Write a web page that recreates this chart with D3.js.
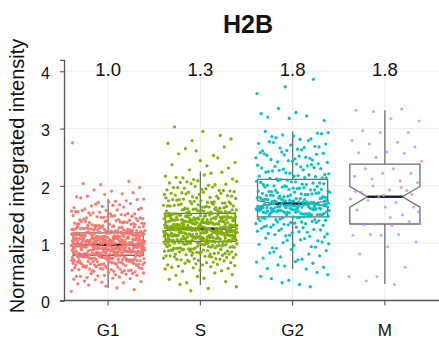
<!DOCTYPE html>
<html><head><meta charset="utf-8">
<script src="https://cdn.jsdelivr.net/npm/d3@7"></script>
<style>
body{margin:0;background:#fff;}
svg{display:block;font-family:"Liberation Sans",Arial,sans-serif;}
</style></head>
<body><svg id="c" width="439" height="341"></svg>
<script>
// ---------- data ----------
const categories = ["G1", "S", "G2", "M"];
const colors = ["#F8766D", "#7CAE00", "#00BFC4", "#C77CFF"];
const meanLabels = ["1.0", "1.3", "1.8", "1.8"];
const yTicks = [0, 1, 2, 3, 4];

// box statistics
const q1 = [0.79, 1.03, 1.46, 1.335];
const medians = [0.97, 1.25, 1.69, 1.81];
const q3 = [1.18, 1.52, 2.115, 2.38];
const whiskerLow = [0.22, 0.27, 0.55, 0.29];
const whiskerHigh = [1.77, 2.25, 2.95, 3.32];
const notchHalf = [0.025, 0.03, 0.05, 0.18];

// individual cell values
const valuesG1 = [
0.16,0.22,0.27,0.19,0.25,0.29,
0.31,0.36,0.33,0.39,0.34,0.38,0.32,0.37,
0.41,0.47,0.44,0.49,0.42,0.46,0.43,0.48,0.45,0.40,0.47,0.44,0.42,0.49,
0.51,0.57,0.54,0.59,0.52,0.56,0.53,0.58,0.55,0.50,0.57,0.54,0.52,0.59,0.56,0.51,0.58,0.53,0.55,0.57,0.54,0.52,
0.61,0.67,0.64,0.69,0.62,0.66,0.63,0.68,0.65,0.60,0.67,0.64,0.62,0.69,0.66,0.61,0.68,0.63,0.65,0.67,0.64,0.62,0.69,0.66,0.61,0.68,0.63,0.65,0.60,0.67,0.64,0.62,0.66,0.68,0.63,
0.73,0.78,0.71,0.76,0.70,0.79,0.74,0.72,0.77,0.75,0.76,0.72,0.79,0.74,0.77,0.71,0.75,0.70,0.78,0.73,
0.70,0.75,0.77,0.72,0.79,0.73,0.78,0.76,0.71,0.74,0.79,0.71,0.74,0.78,0.73,0.76,0.70,0.77,0.75,0.72,
0.74,0.77,0.72,0.70,0.75,
0.84,0.87,0.82,0.80,0.85,0.88,0.81,0.89,0.83,0.86,0.81,0.89,0.86,0.83,0.88,0.84,0.87,0.85,0.82,0.80,
0.85,0.80,0.83,0.89,0.81,0.87,0.82,0.84,0.86,0.88,0.83,0.88,0.81,0.86,0.80,0.89,0.84,0.82,0.87,0.85,
0.86,0.82,0.89,0.84,0.87,0.81,0.85,0.80,0.88,0.83,0.80,0.85,0.87,0.82,0.89,0.83,0.88,0.86,0.81,0.84,
0.99,0.91,0.94,0.98,0.93,0.96,0.90,0.97,0.95,0.92,0.94,0.97,0.92,0.90,0.95,0.98,0.91,0.99,0.93,0.96,
0.91,0.99,0.96,0.93,0.98,0.94,0.97,0.95,0.92,0.90,0.95,0.90,0.93,0.99,0.91,0.97,0.92,0.94,0.96,0.98,
0.93,0.98,0.91,0.96,0.90,0.99,0.94,0.92,0.97,0.95,0.96,0.92,0.99,0.94,0.97,0.91,0.95,0.90,0.98,0.93,
0.90,0.95,0.97,0.92,0.99,
1.00,1.05,1.07,1.02,1.09,1.03,1.08,1.06,1.01,1.04,1.09,1.01,1.04,1.08,1.03,1.06,1.00,1.07,1.05,1.02,
1.04,1.07,1.02,1.00,1.05,1.08,1.01,1.09,1.03,1.06,1.01,1.09,1.06,1.03,1.08,1.04,1.07,1.05,1.02,1.00,
1.05,1.00,1.03,1.09,1.01,1.07,1.02,1.04,1.06,1.08,1.03,1.08,1.01,1.06,1.00,1.09,1.04,1.02,1.07,1.05,
1.06,1.02,1.09,1.04,1.07,
1.11,1.19,1.16,1.13,1.18,1.14,1.17,1.15,1.12,1.10,1.15,1.10,1.13,1.19,1.11,1.17,1.12,1.14,1.16,1.18,
1.13,1.18,1.11,1.16,1.10,1.19,1.14,1.12,1.17,1.15,1.16,1.12,1.19,1.14,1.17,1.11,1.15,1.10,1.18,1.13,
1.10,1.15,1.17,1.12,1.19,1.13,1.18,1.16,1.11,1.14,1.19,1.11,1.14,1.18,1.13,
1.24,1.27,1.22,1.20,1.25,1.28,1.21,1.29,1.23,1.26,1.21,1.29,1.26,1.23,1.28,1.24,1.27,1.25,1.22,1.20,
1.25,1.20,1.23,1.29,1.21,1.27,1.22,1.24,1.26,1.28,1.23,1.28,1.21,1.26,1.20,1.29,1.24,1.22,
1.36,1.32,1.39,1.34,1.37,1.31,1.35,1.30,1.38,1.33,1.30,1.35,1.37,1.32,1.39,1.33,1.38,1.36,1.31,1.34,
1.39,1.31,1.34,1.38,1.33,1.36,1.30,
1.44,1.47,1.42,1.40,1.45,1.48,1.41,1.49,1.43,1.46,1.41,1.49,1.46,1.43,1.48,1.44,1.47,1.45,
1.55,1.50,1.53,1.59,1.51,1.57,1.52,1.54,1.56,1.58,1.53,1.51,1.57,1.55,
1.63,1.68,1.61,1.66,1.60,1.69,1.64,1.62,1.67,1.65,
1.76,1.72,1.79,1.74,1.71,1.77,1.73,
1.82,1.88,1.85,1.81,1.86,
1.93,1.97,1.91,
2.04,2.08,2.02,
2.75];

const valuesS = [
0.17,0.24,0.21,0.28,
0.33,0.42,0.37,0.48,0.31,0.45,0.39,0.44,
0.52,0.57,0.55,0.59,0.51,0.56,0.53,0.58,
0.63,0.68,0.61,0.66,0.60,0.69,0.64,0.62,0.67,0.65,0.66,0.62,
0.76,0.72,0.79,0.74,0.77,0.71,0.75,0.70,0.78,0.73,0.70,0.75,0.77,0.72,0.79,0.73,0.78,0.76,
0.89,0.81,0.84,0.88,0.83,0.86,0.80,0.87,0.85,0.82,0.84,0.87,0.82,0.80,0.85,0.88,0.81,0.89,0.83,0.86,
0.81,0.89,0.86,0.83,0.88,
0.95,0.90,0.93,0.99,0.91,0.97,0.92,0.94,0.96,0.98,0.93,0.98,0.91,0.96,0.90,0.99,0.94,0.92,0.97,0.95,
0.96,0.92,0.99,0.94,0.97,0.91,0.95,0.90,0.98,0.93,
1.00,1.05,1.07,1.02,1.09,1.03,1.08,1.06,1.01,1.04,1.09,1.01,1.04,1.08,1.03,1.06,1.00,1.07,1.05,1.02,
1.04,1.07,1.02,1.00,1.05,1.08,1.01,1.09,1.03,1.06,1.01,1.09,1.06,1.03,1.08,1.04,1.07,1.05,1.02,1.00,
1.05,1.00,1.03,1.09,1.01,1.07,1.02,1.04,1.06,1.08,
1.13,1.18,1.11,1.16,1.10,1.19,1.14,1.12,1.17,1.15,1.16,1.12,1.19,1.14,1.17,1.11,1.15,1.10,1.18,1.13,
1.10,1.15,1.17,1.12,1.19,1.13,1.18,1.16,1.11,1.14,1.19,1.11,1.14,1.18,1.13,1.16,1.10,1.17,1.15,1.12,
1.14,1.17,1.12,1.10,1.15,1.18,1.11,1.19,1.13,1.16,1.11,1.19,1.16,1.13,1.18,1.14,1.17,1.15,1.12,1.10,
1.25,1.20,1.23,1.29,1.21,1.27,1.22,1.24,1.26,1.28,1.23,1.28,1.21,1.26,1.20,1.29,1.24,1.22,1.27,1.25,
1.26,1.22,1.29,1.24,1.27,1.21,1.25,1.20,1.28,1.23,1.20,1.25,1.27,1.22,1.29,1.23,1.28,1.26,1.21,1.24,
1.29,1.21,1.24,1.28,1.23,1.26,1.20,1.27,1.25,1.22,1.24,1.27,1.22,1.20,1.25,1.28,1.21,1.29,1.23,1.26,
1.31,1.39,1.36,1.33,1.38,1.34,1.37,1.35,1.32,1.30,1.35,1.30,1.33,1.39,1.31,1.37,1.32,1.34,1.36,1.38,
1.33,1.38,1.31,1.36,1.30,1.39,1.34,1.32,1.37,1.35,1.36,1.32,1.39,1.34,1.37,1.31,1.35,1.30,1.38,1.33,
1.30,1.35,1.37,1.32,1.39,1.33,1.38,1.36,1.31,1.34,
1.49,1.41,1.44,1.48,1.43,1.46,1.40,1.47,1.45,1.42,1.44,1.47,1.42,1.40,1.45,1.48,1.41,1.49,1.43,1.46,
1.41,1.49,1.46,1.43,1.48,1.44,1.47,1.45,1.42,1.40,1.45,1.40,1.43,1.49,1.41,1.47,1.42,1.44,1.46,1.48,
1.43,1.48,1.41,1.46,1.40,
1.56,1.52,1.59,1.54,1.57,1.51,1.55,1.50,1.58,1.53,1.50,1.55,1.57,1.52,1.59,1.53,1.58,1.56,1.51,1.54,
1.59,1.51,1.54,1.58,1.53,1.56,1.50,1.57,1.55,1.52,
1.64,1.67,1.62,1.60,1.65,1.68,1.61,1.69,1.63,1.66,1.61,1.69,1.66,1.63,1.68,1.64,1.67,1.65,1.62,1.60,
1.65,1.63,
1.75,1.70,1.73,1.79,1.71,1.77,1.72,1.74,1.76,1.78,1.73,1.78,1.71,1.76,1.70,1.79,1.74,1.72,
1.86,1.82,1.89,1.84,1.87,1.81,1.85,1.80,1.88,1.83,1.85,1.87,1.82,1.89,
1.90,1.95,1.97,1.92,1.99,1.93,1.98,1.96,1.91,1.94,1.97,1.92,
2.04,2.08,2.01,2.06,2.03,2.09,2.05,2.02,2.07,
2.12,2.19,2.15,2.24,2.11,2.17,2.22,2.14,
2.31,2.44,2.37,2.49,2.28,2.41,2.35,
2.56,2.68,2.61,2.74,2.53,2.65,
2.82,2.95,3.03,2.88,2.79];

const valuesG2 = [
0.24,0.31,0.45,0.28,0.38,0.49,0.35,0.42,
0.55,0.62,0.58,0.68,0.56,0.65,0.60,0.67,
0.72,0.85,0.78,0.89,0.74,0.81,0.76,0.87,0.71,0.83,
0.93,1.05,0.98,1.08,0.91,1.02,0.96,1.09,0.94,1.01,0.99,1.06,0.92,1.04,
1.14,1.26,1.19,1.22,1.11,1.28,1.17,1.24,1.13,1.21,1.27,1.15,1.23,1.18,1.29,1.12,1.25,1.16,1.20,1.28,
1.36,1.32,1.39,1.34,1.37,1.31,1.35,1.30,1.38,1.33,1.34,1.37,1.32,1.39,1.36,
1.44,1.47,1.42,1.40,1.45,1.48,1.41,1.49,1.43,1.46,1.41,1.49,1.46,1.43,1.48,1.44,1.47,1.45,
1.55,1.50,1.53,1.59,1.51,1.57,1.52,1.54,1.56,1.58,1.53,1.58,1.51,1.56,1.50,1.59,1.54,1.52,1.57,1.55,
1.56,1.52,1.59,1.54,1.57,1.51,1.55,1.50,1.58,1.53,1.50,1.55,1.57,1.52,1.59,
1.69,1.61,1.64,1.68,1.63,1.66,1.60,1.67,1.65,1.62,1.64,1.67,1.62,1.60,1.65,1.68,1.61,1.69,1.63,1.66,
1.61,1.69,1.66,1.63,1.68,1.64,1.67,1.65,1.62,1.60,1.65,1.60,1.63,1.69,1.61,1.67,1.62,1.64,1.66,1.68,
1.63,1.68,1.61,1.66,1.60,
1.76,1.72,1.79,1.74,1.77,1.71,1.75,1.70,1.78,1.73,1.70,1.75,1.77,1.72,1.79,1.73,1.78,1.76,1.71,1.74,
1.79,1.71,1.74,1.78,1.73,1.76,1.70,1.77,1.75,1.72,
1.84,1.87,1.82,1.80,1.85,1.88,1.81,1.89,1.83,1.86,1.81,1.89,1.86,1.83,1.88,1.84,1.87,1.85,1.82,1.80,
1.95,1.90,1.93,1.99,1.91,1.97,1.92,1.94,1.96,1.98,1.93,1.98,1.91,1.96,1.90,1.99,1.94,
2.06,2.02,2.09,2.04,2.07,2.01,2.05,2.00,2.08,2.03,2.00,2.05,2.07,2.02,
2.19,2.11,2.14,2.18,2.13,2.16,2.10,2.17,2.15,2.12,2.14,2.17,
2.24,2.37,2.29,2.21,2.33,2.26,2.39,2.22,2.31,2.35,2.27,2.20,2.38,2.25,2.32,2.23,2.36,2.28,2.34,2.30,
2.43,2.56,2.48,2.59,2.41,2.52,2.46,2.55,2.44,2.58,2.50,2.42,2.57,2.47,2.53,2.45,2.54,2.49,
2.63,2.76,2.68,2.71,2.61,2.79,2.66,2.73,2.64,2.77,2.69,2.62,2.74,2.67,
2.84,2.91,2.87,2.95,2.82,2.89,2.93,2.81,2.86,2.92,
3.18,3.26,3.22,3.35,3.14,3.28,3.20,
3.86,3.73,3.61];

const valuesM = [
3.32,3.34,3.30,3.13,3.17,2.96,2.93,2.93,2.79,2.76,2.73,2.68,2.59,2.58,2.57,2.50,2.43,2.30,2.30,2.22,
2.22,2.17,2.09,2.12,2.06,1.93,1.89,1.92,1.80,1.77,1.71,1.75,1.63,1.63,1.58,1.49,1.33,1.35,1.31,1.32,
1.38,1.14,1.14,1.15,1.15,1.02,0.94,0.81,0.58,0.42,0.42,0.28,0.34,1.85,1.83,1.90,1.97,2.00,1.55,1.45];

const groups = [valuesG1, valuesS, valuesG2, valuesM];

// ---------- layout ----------
const svg = d3.select("#c");
const font = '"Liberation Sans", Arial, sans-serif';
const y = d3.scaleLinear().domain([0, 4.2]).range([300.5, 59.8]);
const x = d3.scaleBand().domain(categories).range([62, 431]).paddingInner(0).paddingOuter(0);
const axisX0 = 64;
const boxW = x.step() * 0.76;
const jitterW = x.step() * 0.8;
const cx = c => x(c) + x.bandwidth() / 2;

// grid
const grid = svg.append("g");
grid.selectAll("line.h").data(yTicks).join("line")
  .attr("x1", axisX0).attr("x2", 439)
  .attr("y1", d => y(d)).attr("y2", d => y(d))
  .attr("stroke", "#ececec").attr("stroke-width", 0.9);
grid.selectAll("line.v").data(categories).join("line")
  .attr("x1", d => cx(d)).attr("x2", d => cx(d))
  .attr("y1", y(0)).attr("y2", y(4.2))
  .attr("stroke", "#ececec").attr("stroke-width", 0.9);

// boxes
const boxColor = "#6e6e6e";
const boxes = svg.append("g");
categories.forEach((c, i) => {
  const xc = cx(c), l = xc - boxW / 2, r = xc + boxW / 2, ins = boxW * 0.25;
  const nh = y(medians[i] + notchHalf[i]), nl = y(medians[i] - notchHalf[i]), m = y(medians[i]);
  const pts = [[l, y(q3[i])], [r, y(q3[i])], [r, nh], [r - ins, m], [r, nl], [r, y(q1[i])],
               [l, y(q1[i])], [l, nl], [l + ins, m], [l, nh]];
  boxes.append("line").attr("x1", xc).attr("x2", xc)
    .attr("y1", y(q3[i])).attr("y2", y(whiskerHigh[i]))
    .attr("stroke", boxColor).attr("stroke-width", 1.3);
  boxes.append("line").attr("x1", xc).attr("x2", xc)
    .attr("y1", y(q1[i])).attr("y2", y(whiskerLow[i]))
    .attr("stroke", boxColor).attr("stroke-width", 1.3);
  boxes.append("path").attr("d", d3.line()(pts) + "Z")
    .attr("fill", "none").attr("stroke", boxColor).attr("stroke-width", 1.3);
  boxes.append("line").attr("x1", l + ins).attr("x2", r - ins)
    .attr("y1", m).attr("y2", m)
    .attr("stroke", "#222").attr("stroke-width", 2.6);
});

// jittered points (deterministic golden-ratio jitter for horizontal placement)
const phi = 0.6180339887;
const pointsG = svg.append("g");
groups.forEach((vals, gi) => {
  const xc = cx(categories[gi]);
  pointsG.append("g").selectAll("circle").data(vals).join("circle")
    .attr("cx", (d, i) => xc + (((i * phi + gi * 0.37) % 1) - 0.5) * jitterW)
    .attr("cy", d => y(d))
    .attr("r", gi === 3 ? 1.5 : 1.65)
    .attr("fill", colors[gi])
    .attr("fill-opacity", gi === 3 ? 0.75 : 0.95);
});

// axes
const yAxis = svg.append("g").attr("transform", `translate(${axisX0},0)`)
  .call(d3.axisLeft(y).tickValues(yTicks).tickFormat(d3.format("d")).tickSize(4).tickPadding(10));
yAxis.select(".domain").attr("stroke", "#555").attr("stroke-width", 1.3);
yAxis.selectAll(".tick line").attr("stroke", "#555").attr("stroke-width", 1.1);
yAxis.selectAll(".tick text").attr("font-family", font).attr("font-size", 16)
  .attr("fill", "#111").attr("dy", "0.45em");

const xAxis = svg.append("g").attr("transform", `translate(0,${y(0)})`)
  .call(d3.axisBottom(x).tickSize(5).tickPadding(0));
xAxis.select(".domain").remove();
xAxis.selectAll(".tick line").attr("stroke", "#555").attr("stroke-width", 1.1);
xAxis.selectAll(".tick text").attr("font-family", font).attr("font-size", 17)
  .attr("fill", "#111").attr("y", 35.5).attr("dy", 0);
svg.append("line").attr("x1", axisX0 - 0.6).attr("x2", 439)
  .attr("y1", y(0)).attr("y2", y(0)).attr("stroke", "#555").attr("stroke-width", 1.3);

// mean labels
svg.append("g").selectAll("text").data(categories).join("text")
  .attr("x", d => cx(d)).attr("y", 75.5)
  .attr("text-anchor", "middle").attr("font-family", font).attr("font-size", 18.5)
  .attr("fill", "#111").text((d, i) => meanLabels[i]);

// title
svg.append("text").attr("x", 248).attr("y", 33).attr("text-anchor", "middle")
  .attr("font-family", font).attr("font-size", 25).attr("font-weight", "bold")
  .attr("fill", "#111").text("H2B");

// y label
svg.append("text").attr("transform", "translate(24,176) rotate(-90)")
  .attr("text-anchor", "middle").attr("font-family", font).attr("font-size", 20)
  .attr("fill", "#111").text("Normalized integrated intensity");
</script></body></html>
